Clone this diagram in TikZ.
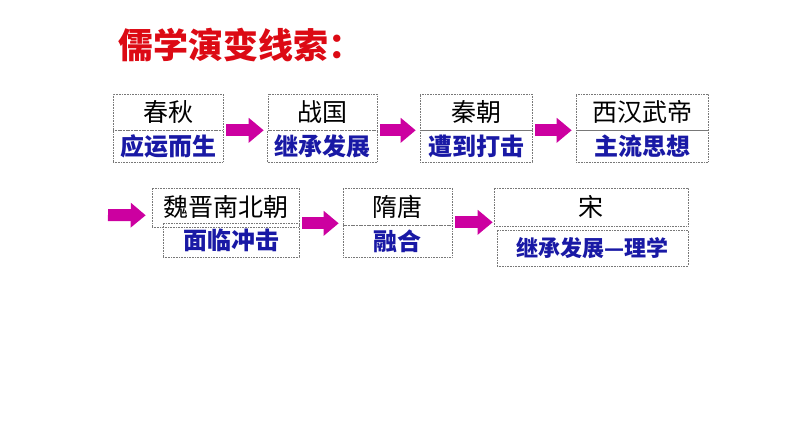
\documentclass[tikz,border=0pt]{standalone}
\usepackage{fontspec}
\newfontfamily\cjk{Noto Sans CJK SC}
\usepackage{tikz}
\usetikzlibrary{arrows.meta}

\definecolor{titlered}{RGB}{220,10,20}
\definecolor{noteblue}{RGB}{25,25,165}
\definecolor{flowpink}{RGB}{204,0,160}
\definecolor{boxline}{RGB}{120,120,120}

\tikzset{
  era/.style={draw=boxline, densely dotted, line width=0.6pt, inner sep=0pt,
    font=\cjk\fontsize{25}{25}\selectfont},
  note/.style={era, text=noteblue, font=\cjk\bfseries\fontsize{24}{24}\selectfont},
  flow/.style={draw=flowpink, line width=12pt, -{Triangle[width=24pt,length=15pt]}}
}

\begin{document}
\begin{tikzpicture}[x=1pt,y=-1pt]
\useasboundingbox (0,0) rectangle (794,447);
\node[anchor=west, text=titlered, font=\cjk\bfseries\fontsize{35}{35}\selectfont] (title) at (115,45) {儒学演变线索：};

% first row
\node[era, minimum width=110pt, minimum height=36pt] (cq) at (168,112) {春秋};
\node[note, minimum width=110pt, minimum height=32pt] (cqn) at (168,146) {应运而生};
\node[era, minimum width=109pt, minimum height=36pt] (zg) at (322.5,112) {战国};
\node[note, minimum width=110pt, minimum height=32pt] (zgn) at (322.5,146) {继承发展};
\node[era, minimum width=112pt, minimum height=36pt] (qc) at (476,112) {秦朝};
\node[note, minimum width=112pt, minimum height=32pt] (qcn) at (476,146) {遭到打击};
\node[era, minimum width=132pt, minimum height=36pt] (xh) at (642,112) {西汉武帝};
\node[note, minimum width=132pt, minimum height=32pt] (xhn) at (642,146) {主流思想};

% second row
\node[era, minimum width=147pt, minimum height=39pt] (wj) at (225.5,207.5) {魏晋南北朝};
\node[note, minimum width=136pt, minimum height=34pt] (wjn) at (231,240) {面临冲击};
\node[era, minimum width=109pt, minimum height=37pt] (st) at (397.5,206.5) {隋唐};
\node[note, minimum width=109pt, minimum height=32pt] (stn) at (397.5,241) {融合};
\node[era, minimum width=194pt, minimum height=38pt] (song) at (591,207) {宋};
\node[note, minimum width=191pt, minimum height=36pt, font=\cjk\bfseries\fontsize{22}{22}\selectfont] (songn) at (592.5,248) {继承发展—理学};

\coordinate (wrap) at (108,215);

\draw[flow] ([xshift=3pt]cq.south east) -- ([xshift=-4pt]zg.south west);
\draw[flow] ([xshift=3pt]zg.south east) -- ([xshift=-4pt]qc.south west);
\draw[flow] ([xshift=3pt]qc.south east) -- ([xshift=-4pt]xh.south west);
\draw[flow] (wrap) -- ([xshift=-6pt,yshift=12pt]wj.south west);
\draw[flow] ([xshift=3pt,yshift=4pt]wj.south east) -- ([xshift=-4pt,yshift=2pt]st.south west);
\draw[flow] ([xshift=3pt,yshift=3pt]st.south east) -- ([xshift=-1pt,yshift=4pt]song.south west);
\end{tikzpicture}
\end{document}
